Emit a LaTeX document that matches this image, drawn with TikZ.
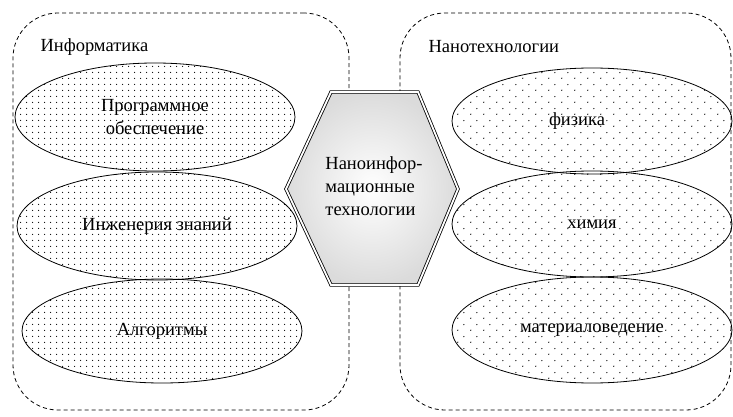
\documentclass[tikz,border=0pt]{standalone}
\usepackage{fontspec}
\setmainfont{Liberation Serif}
\usetikzlibrary{patterns,shapes.geometric}
\pgfdeclarepatternformonly{ldots}{\pgfpointorigin}{\pgfpoint{6pt}{6pt}}{\pgfpoint{6pt}{6pt}}{%
  \pgfpathcircle{\pgfpoint{3pt}{3pt}}{0.75pt}\pgfusepath{fill}}
\pgfdeclarepatternformonly{rdots}{\pgfpointorigin}{\pgfpoint{13pt}{12pt}}{\pgfpoint{13pt}{12pt}}{%
  \pgfpathcircle{\pgfpoint{3pt}{3pt}}{0.75pt}\pgfusepath{fill}%
  \pgfpathcircle{\pgfpoint{9.5pt}{9pt}}{0.75pt}\pgfusepath{fill}}
\begin{document}
\begin{tikzpicture}[x=1pt,y=-1pt,
  every node/.style={font=\fontsize{18.5}{23}\selectfont},
  group/.style={draw, rectangle, rounded corners=45pt, dash pattern=on 4pt off 3pt, line width=0.8pt, inner sep=0pt},
  lell/.style={draw, ellipse, line width=0.8pt, pattern=ldots, inner sep=0pt, minimum width=280pt, minimum height=108pt, align=center},
  rell/.style={draw, ellipse, line width=0.8pt, pattern=rdots, inner sep=0pt, minimum width=280pt, minimum height=106pt, align=center},
  hexa/.style={double, double distance=1.8pt, line width=0.8pt, inner color=white, outer color=gray!28}
]
\useasboundingbox (0,0) rectangle (733,417);
\fill[white] (0,0) rectangle (733,417);
% groups
\node[group, minimum width=336pt, minimum height=397pt] (L) at (181,211.5) {};
\node[group, minimum width=331pt, minimum height=397pt] (R) at (565.5,211.5) {};
\node[anchor=west] (Ltitle) at (37,47) {Информатика};
\node[anchor=west] (Rtitle) at (425,47) {Нанотехнологии};
% left ellipses
\node[lell] (e1) at (155,117) {Программное\\обеспечение};
\node[lell] (e2) at (157,226) {Инженерия знаний};
\node[lell, minimum height=104pt] (e3) at (162,331) {Алгоритмы};
% right ellipses
\node[rell] (f1) at (592,121) {\hspace*{-30pt}физика};
\node[rell] (f2) at (592,224) {химия};
\node[rell] (f3) at (592,330) {материаловедение};
% hexagon
\coordinate (h1) at (286,189);
\coordinate (h2) at (331,92);
\coordinate (h3) at (418,92);
\coordinate (h4) at (458,189);
\coordinate (h5) at (418,285);
\coordinate (h6) at (331,285);
\shade[hexa] (h1) -- (h2) -- (h3) -- (h4) -- (h5) -- (h6) -- cycle;
\draw[hexa] (h1) -- (h2) -- (h3) -- (h4) -- (h5) -- (h6) -- cycle;
\node[align=left] (C) at (374,186) {Наноинфор-\\мационные\\технологии};
\end{tikzpicture}
\end{document}
